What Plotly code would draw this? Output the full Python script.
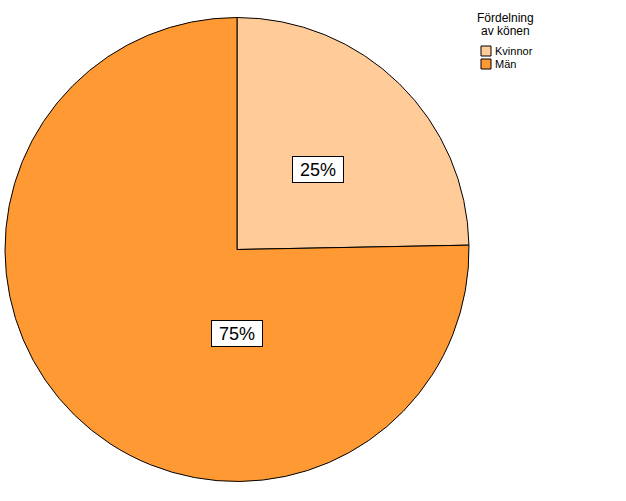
import plotly.graph_objects as go

categories = ["Kvinnor", "Män"]
values = [24.7, 75.3]
colors = ["#FFCC99", "#FF9933"]
legend_title_lines = ["Fördelning", "av könen"]

W, H = 626, 501
cx, cy, r = 237, 249.5, 232
FONT = "Liberation Sans, Arial"

fig = go.Figure(go.Pie(
    labels=categories,
    values=values,
    sort=False,
    direction="clockwise",
    rotation=0,
    marker=dict(colors=colors, line=dict(color="#000000", width=1)),
    textinfo="none",
    hoverinfo="label+percent",
    showlegend=False,
    domain=dict(x=[(cx - r) / W, (cx + r) / W], y=[1 - (cy + r) / H, 1 - (cy - r) / H]),
))

def px(x):
    return x / W

def py(y):
    return 1 - y / H

total = sum(values)
label_pos = [(318, 169), (237, 333)]
for v, (lx, ly) in zip(values, label_pos):
    fig.add_annotation(
        x=px(lx), y=py(ly), xref="paper", yref="paper",
        text=f"{round(100 * v / total)}%", showarrow=False,
        font=dict(family=FONT, size=18, color="black"),
        width=44, height=19, align="center", valign="middle",
        bgcolor="white", bordercolor="black", borderwidth=1, borderpad=3,
    )

# legend: centred two-line heading
for i, line in enumerate(legend_title_lines):
    fig.add_annotation(
        x=px(506), y=py(18 + 13 * i), xref="paper", yref="paper",
        xanchor="center", yanchor="middle",
        text=line, showarrow=False,
        font=dict(family=FONT, size=12, color="black"),
    )

# legend entries: swatch + label
for i, (cat, col) in enumerate(zip(categories, colors)):
    yc = 51 + 13 * i
    fig.add_shape(
        type="rect", xref="paper", yref="paper",
        x0=px(481), x1=px(491), y0=py(yc + 5), y1=py(yc - 5),
        fillcolor=col, line=dict(color="black", width=1),
    )
    fig.add_annotation(
        x=px(493), y=py(yc), xref="paper", yref="paper",
        xanchor="left", yanchor="middle",
        text=cat, showarrow=False,
        font=dict(family=FONT, size=11, color="black"),
    )

fig.update_layout(
    width=W, height=H,
    margin=dict(l=0, r=0, t=0, b=0),
    paper_bgcolor="white", plot_bgcolor="white",
    font=dict(family=FONT, size=11, color="black"),
    showlegend=False,
)

fig.write_html(
    "out.html",
    config={"displayModeBar": False},
    post_script="document.body.style.margin='0';",
)
